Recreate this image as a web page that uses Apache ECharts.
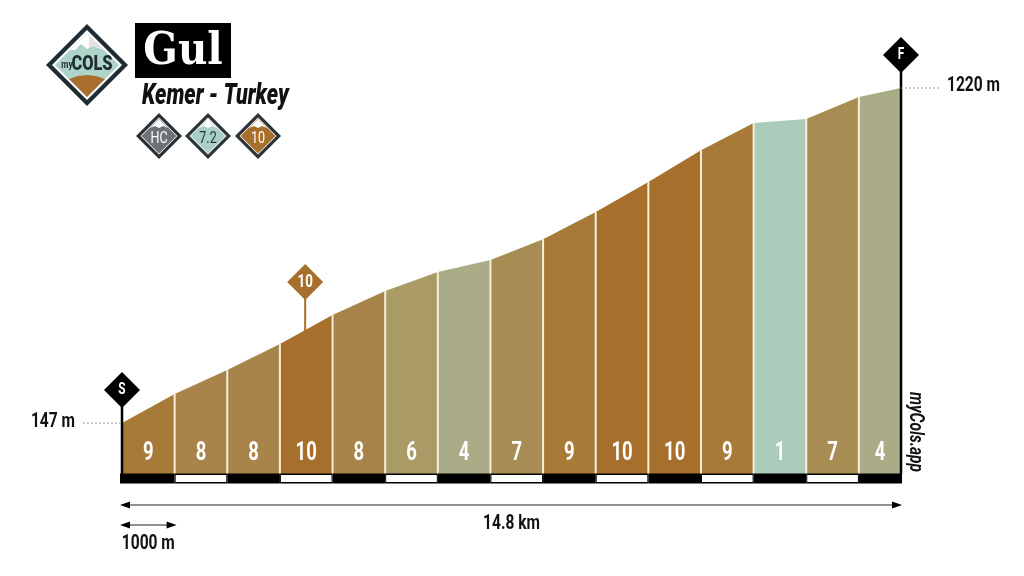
<!DOCTYPE html>
<html><head><meta charset="utf-8">
<style>html,body{margin:0;padding:0;background:#fff}#c{width:1024px;height:576px}</style>
<script src="https://cdn.jsdelivr.net/npm/echarts@6/dist/echarts.min.js"></script>
</head><body><div id="c"></div>
<script>
const kmMarks   = [0,1,2,3,4,5,6,7,8,9,10,11,12,13,14,14.8];
const elevation = [147,240,317,400,493,570,631,669,736,823,919,1021,1108,1121,1191,1220];
const grades    = [9,8,8,10,8,6,4,7,9,10,10,9,1,7,4];
const peakKm = 3.48, peakLabel = '10', peakGrade = 10;
const totalLabel = '14.8 km', unitLabel = '1000 m';
const startLabel = '147 m', finishLabel = '1220 m';
const gradeColors = {1:'#abcbbb',4:'#a9ac87',6:'#a99a66',7:'#a78d54',8:'#a8834a',9:'#a87a37',10:'#a66f2b'};
const FONT = 'Roboto,sans-serif';
const NARROW = 0.74;

const chart = echarts.init(document.getElementById('c'),null,{renderer:'canvas'});

function label(x,y,text,size,fill,align,opt){
  return Object.assign({type:'text',x,y,scaleX:NARROW,style:{text,font:'bold '+size+'px '+FONT,fill,align:align||'center',verticalAlign:'middle'}},opt||{});
}

const segData = grades.map((g,i)=>[kmMarks[i],kmMarks[i+1],elevation[i],elevation[i+1],g,i]);
const yMin = -16, yMax = elevation[elevation.length-1];
const xEnd = kmMarks[kmMarks.length-1];

function segItem(p,api){
  const x0=api.value(0),x1=api.value(1),y0=api.value(2),y1=api.value(3),g=api.value(4),i=api.value(5);
  const a=api.coord([x0,yMin]),b=api.coord([x1,yMin]),c=api.coord([x1,y1]),d=api.coord([x0,y0]);
  const kids=[{type:'polygon',shape:{points:[a,b,c,d]},style:{fill:gradeColors[g]}}];
  if(i>0) kids.push({type:'line',shape:{x1:a[0],y1:a[1],x2:d[0],y2:d[1]},style:{stroke:'#f5efdc',lineWidth:2}});
  kids.push(label((a[0]+b[0])/2,a[1]-20,String(g),25,'#fff'));
  return {type:'group',children:kids};
}
function stripItem(p,api){
  const x0=api.value(0),x1=api.value(1),i=api.value(2);
  const a=api.coord([x0,yMin]),b=api.coord([x1,yMin]);
  const kids=[{type:'rect',shape:{x:a[0]-(i===0?2:0),y:a[1]-0.5,width:b[0]-a[0]+(i===0?2:0)+(i===14?1:0),height:10},style:{fill:'#000'}}];
  if(i%2===1) kids.push({type:'rect',shape:{x:a[0]+1,y:a[1]+1,width:b[0]-a[0]-2,height:7},style:{fill:'#fff'}});
  return {type:'group',children:kids};
}
function arrow(xa,xb,y){
  const h=3.5,l=10;
  return [
    {type:'line',shape:{x1:xa+5,y1:y,x2:xb-5,y2:y},style:{stroke:'#222',lineWidth:1}},
    {type:'polygon',shape:{points:[[xa,y],[xa+l,y-h],[xa+l,y+h]]},style:{fill:'#000'}},
    {type:'polygon',shape:{points:[[xb,y],[xb-l,y-h],[xb-l,y+h]]},style:{fill:'#000'}}
  ];
}
function annotItem(p,api){
  const b0=api.coord([0,yMin]),b1=api.coord([1,yMin]);
  const s=api.coord([0,elevation[0]]),f=api.coord([xEnd,yMax]);
  const pk=api.coord([peakKm,yMin]);
  const kids=[];
  const diamond=(cx,cy,r,fill,text,size)=>{
    kids.push({type:'polygon',shape:{points:[[cx,cy-r],[cx+r,cy],[cx,cy+r],[cx-r,cy]]},style:{fill}});
    kids.push(label(cx,cy,text,size,'#fff'));
  };
  kids.push({type:'line',shape:{x1:s[0],y1:b0[1],x2:s[0],y2:s[1]-33},style:{stroke:'#000',lineWidth:2.5}});
  kids.push({type:'line',shape:{x1:f[0],y1:b0[1],x2:f[0],y2:f[1]-33},style:{stroke:'#000',lineWidth:2.5}});
  diamond(s[0],s[1]-33,18,'#000','S',16);
  diamond(f[0],f[1]-33,18,'#000','F',16);
  const peakElev=elevation[3]+(elevation[4]-elevation[3])*(peakKm-3);
  const pt=api.coord([peakKm,peakElev]);
  kids.push({type:'line',shape:{x1:pk[0],y1:pt[1]+2,x2:pk[0],y2:282},style:{stroke:gradeColors[peakGrade],lineWidth:2}});
  diamond(pk[0],282,18,gradeColors[peakGrade],peakLabel,18);
  kids.push({type:'line',shape:{x1:s[0]-39,y1:s[1],x2:s[0],y2:s[1]},style:{stroke:'#999',lineWidth:1,lineDash:[2,2]}});
  kids.push({type:'line',shape:{x1:f[0],y1:f[1],x2:f[0]+38,y2:f[1]},style:{stroke:'#999',lineWidth:1,lineDash:[2,2]}});
  kids.push(label(s[0]-47,s[1]-1,startLabel,21,'#111','right'));
  kids.push(label(f[0]+46,f[1]-2,finishLabel,21,'#111','left'));
  kids.push(...arrow(s[0]-2,f[0]+1,b0[1]+31));
  kids.push(...arrow(s[0]-2,b1[0]+2,b0[1]+51));
  kids.push(label((s[0]+f[0])/2,b0[1]+50,totalLabel,21,'#111'));
  kids.push(label((s[0]+b1[0])/2,b0[1]+70,unitLabel,21,'#111'));
  kids.push({type:'text',x:f[0]+14,y:432,rotation:-Math.PI/2,scaleX:NARROW,style:{text:'myCols.app',font:'italic bold 21px '+FONT,fill:'#111',align:'center',verticalAlign:'middle'}});
  return {type:'group',children:kids};
}

function dia(cx,cy,r){return [[cx,cy-r],[cx+r,cy],[cx,cy+r],[cx-r,cy]];}
function badge(cx,cy,fill,text){
  return [
    {type:'polygon',shape:{points:dia(cx,cy,23)},style:{fill:'#2b3338'}},
    {type:'polygon',shape:{points:dia(cx,cy,18.5)},style:{fill:'#fff'}},
    {type:'polygon',shape:{points:dia(cx,cy,17.5)},style:{fill}},
    {type:'polygon',shape:{points:[[cx,cy-17],[cx+9,cy-8],[cx+4,cy-10],[cx,cy-8],[cx-4,cy-10],[cx-9,cy-8]]},style:{fill:'#fff'}},
    {type:'text',x:cx,y:cy+3,scaleX:NARROW,style:{text,font:'17px '+FONT,fill:text==='7.2'?'#2b3338':'#fff',align:'center',verticalAlign:'middle'}}
  ];
}
const L={x:87,y:65};
const logo=[
  {type:'polygon',shape:{points:dia(L.x,L.y,41)},style:{fill:'#1f2d33'}},
  {type:'polygon',shape:{points:dia(L.x,L.y,35)},style:{fill:'#fff'}},
  {type:'polygon',shape:{points:dia(L.x,L.y,32)},style:{fill:'#aed3c9'}},
  {type:'polygon',shape:{points:[[L.x,L.y-32],[L.x+17,L.y-15],[L.x+11,L.y-17],[L.x+6,L.y-19],[L.x,L.y-16],[L.x-6,L.y-21],[L.x-12,L.y-15],[L.x-17,L.y-15]]},style:{fill:'#fff'}},
  {type:'polygon',shape:{points:[[L.x+2,L.y-30],[L.x+17,L.y-15],[L.x+6,L.y-19],[L.x+2,L.y-17]]},style:{fill:'#e3e3e1'}},
  {type:'polygon',shape:{points:[[L.x-18,L.y+14],[L.x-9,L.y+11],[L.x,L.y+10],[L.x+9,L.y+11],[L.x+18,L.y+14],[L.x,L.y+32]]},style:{fill:'#a8702c'}},
  {type:'text',x:L.x-20,y:L.y,scaleX:0.75,style:{text:'my',font:'bold 11px '+FONT,fill:'#1f2d33',align:'center',verticalAlign:'middle'}},
  {type:'text',x:L.x+5,y:L.y,scaleX:0.78,style:{text:'COLS',font:'900 21px '+FONT,fill:'#1f2d33',align:'center',verticalAlign:'middle'}}
];

chart.setOption({
  animation:false,
  backgroundColor:'#fff',
  grid:{left:122,right:123,top:88,bottom:102},
  xAxis:{type:'value',min:0,max:xEnd,show:false},
  yAxis:{type:'value',min:yMin,max:yMax,show:false},
  series:[
    {type:'custom',coordinateSystem:'cartesian2d',renderItem:segItem,data:segData,encode:{x:[0,1],y:[2,3]},silent:true,z:2},
    {type:'custom',coordinateSystem:'cartesian2d',renderItem:stripItem,data:kmMarks.slice(0,-1).map((k,i)=>[k,kmMarks[i+1],i]),encode:{x:[0,1]},silent:true,z:3},
    {type:'custom',coordinateSystem:'cartesian2d',renderItem:annotItem,data:[[0]],encode:{x:0},silent:true,z:4}
  ],
  graphic:{elements:[
    {type:'group',children:logo},
    {type:'rect',shape:{x:135,y:23,width:96,height:55},style:{fill:'#000'}},
    {type:'text',x:183,y:53,scaleX:0.92,style:{text:'Gul',font:'bold 44px "DejaVu Serif",serif',fill:'#fff',align:'center',verticalAlign:'middle'}},
    {type:'text',x:142,y:97,scaleX:0.74,style:{text:'Kemer - Turkey',font:'italic 900 29px '+FONT,fill:'#111',align:'left',verticalAlign:'middle'}},
    {type:'group',children:[...badge(159,136,'#6e7276','HC'),...badge(208,136,'#aacfc4','7.2'),...badge(258,136,'#a8702c','10')]}
  ]}
});
</script></body></html>
